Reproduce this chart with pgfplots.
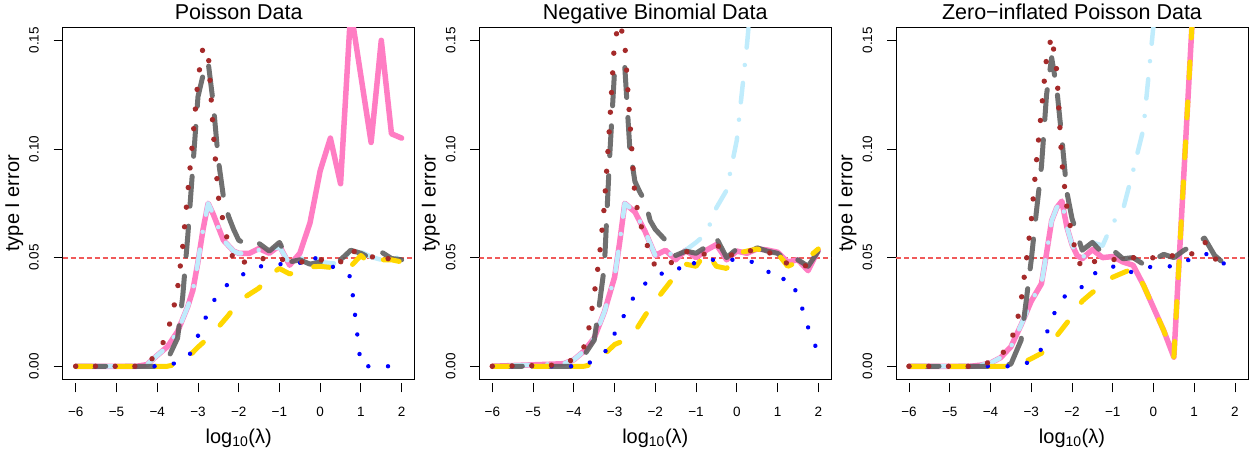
\documentclass[border=0pt]{standalone}
\usepackage{pgfplots}
\pgfplotsset{compat=1.18}
\usepackage{fontspec}
\setmainfont{Liberation Sans}

\definecolor{cpink}{RGB}{255,125,195}
\definecolor{clb}{RGB}{192,236,252}
\definecolor{cgray}{RGB}{92,92,92}
\definecolor{cgold}{RGB}{255,215,0}
\definecolor{cbrown}{RGB}{165,42,42}
\definecolor{cblue}{RGB}{0,0,255}
\definecolor{cref}{RGB}{240,90,90}

\tikzset{
  pinkS/.style={color=cpink, line width=5.5pt, line join=round, line cap=round},
  lbS/.style={color=clb, line width=4.5pt, line join=round, line cap=round, dash pattern=on 0.01pt off 17.5pt on 19.5pt off 18pt},
  grayS/.style={color=cgray, draw opacity=0.88, line width=5pt, line join=round, line cap=round, dash pattern=on 30pt off 20pt},
  goldS/.style={color=cgold, line width=5pt, line join=round, line cap=round, dash pattern=on 16pt off 24pt},
  brownS/.style={color=cbrown, line width=5.4pt, line join=round, line cap=round, dash pattern=on 0.01pt off 19.7pt},
  blueS/.style={color=cblue, line width=4.4pt, line join=round, line cap=round, dash pattern=on 0.01pt off 19.7pt},
  refS/.style={color=cref, line width=1.8pt, line cap=butt, dash pattern=on 5pt off 3pt},
}

\pgfplotsset{
  rpanel/.style={
    scale only axis, width=352pt, height=352pt,
    anchor=south west,
    xmin=-6.32, xmax=2.32, ymin=-0.006, ymax=0.156,
    axis line style={line width=1pt, black},
    xtick={-6,-5,-4,-3,-2,-1,0,1,2},
    xticklabels={−6,−5,−4,−3,−2,−1,0,1,2},
    ytick={0,0.05,0.1,0.15},
    yticklabels={0.00,0.05,0.10,0.15},
    tick align=inside, tick pos=left, major tick length=9pt,
    tick style={black, line width=0.9pt},
    xtick style={yshift=-13pt},
    ytick style={xshift=-9pt},
    tick label style={font=\fontsize{13.5}{15}\selectfont},
    xticklabel style={anchor=base, yshift=-37pt},
    yticklabel style={xshift=-24pt, rotate=90, anchor=base},
    title style={font=\fontsize{21.5}{24}\selectfont, at={(axis description cs:0.5,1.005)}, anchor=base},
    xlabel style={font=\fontsize{20}{22}\selectfont, at={(axis description cs:0.5,-0.181)}, anchor=base},
    ylabel style={font=\fontsize{20}{22}\selectfont, at={(axis description cs:-0.124,0.5)}, anchor=base},
    xlabel={log\textsubscript{10}(λ)},
    ylabel={type I error},
    no markers,
  }
}

\begin{document}
\begin{tikzpicture}
\path[use as bounding box] (0,0) rectangle (1252pt,456pt);

% ---------------- Panel 1: Poisson ----------------
\begin{axis}[rpanel, at={(62.7pt,76.7pt)}, title={Poisson Data}]
\addplot[refS] coordinates {(-6.32,0.05)(2.32,0.05)};
\addplot[pinkS] coordinates {(-6,0)(-4.5,0)(-4.25,0.0008)(-4,0.005)(-3.75,0.009)(-3.5,0.016)(-3.25,0.0275)(-3.125,0.035)(-3,0.048)(-2.875,0.063)(-2.75,0.075)(-2.625,0.070)(-2.5,0.064)(-2.375,0.058)(-2.25,0.0555)(-2.125,0.053)(-2,0.052)(-1.75,0.0519)(-1.5,0.0542)(-1.25,0.052)(-1,0.0555)(-0.75,0.0465)(-0.5,0.052)(-0.25,0.066)(0,0.090)(0.25,0.105)(0.5,0.084)(0.75,0.164)(1.25,0.103)(1.5,0.150)(1.75,0.107)(2,0.105)};
\addplot[lbS] coordinates {(-6,0)(-4.5,0)(-4.25,0.0008)(-4,0.005)(-3.75,0.009)(-3.5,0.016)(-3.25,0.0275)(-3.125,0.035)(-3,0.048)(-2.875,0.063)(-2.75,0.075)(-2.625,0.070)(-2.5,0.064)(-2.375,0.058)(-2.25,0.0555)(-2.125,0.053)(-2,0.052)(-1.75,0.0519)(-1.5,0.0535)(-1.25,0.0534)(-1,0.055)(-0.75,0.047)(-0.5,0.049)(-0.25,0.052)(0,0.048)(0.25,0.0475)(0.5,0.047)(0.75,0.0534)(1,0.0527)(1.25,0.0503)(1.5,0.049)(1.75,0.051)(2,0.049)};
\addplot[grayS] coordinates {(-6,0)(-4,0)(-3.75,0.003)(-3.5,0.013)(-3.375,0.032)(-3.25,0.060)(-3.125,0.092)(-3,0.124)(-2.875,0.134)(-2.75,0.140)(-2.625,0.121)(-2.5,0.095)(-2.375,0.078)(-2.25,0.069)(-2.125,0.063)(-2,0.058)(-1.75,0.0556)(-1.5,0.0565)(-1.25,0.053)(-1,0.057)(-0.75,0.048)(-0.5,0.049)(-0.25,0.047)(0,0.048)(0.25,0.048)(0.5,0.049)(0.75,0.0534)(1,0.052)(1.25,0.0496)(1.5,0.0526)(1.75,0.0496)(2,0.049)};
\addplot[goldS] coordinates {(-6,0)(-3.75,0)(-3.5,0.001)(-3.25,0.004)(-3,0.0088)(-2.75,0.013)(-2.5,0.018)(-2.25,0.0235)(-2,0.030)(-1.75,0.033)(-1.5,0.036)(-1.25,0.042)(-1,0.045)(-0.75,0.0425)(-0.5,0.044)(-0.25,0.0457)(0,0.046)(0.25,0.0455)(0.5,0.045)(0.75,0.046)(1,0.051)(1.25,0.0465)(1.5,0.049)(1.75,0.049)(2,0.048)};
\addplot[blueS] coordinates {(-6,0)(-3.75,0)(-3.5,0.002)(-3.25,0.004)(-3.125,0.008)(-3,0.014)(-2.75,0.025)(-2.5,0.034)(-2.25,0.038)(-2,0.041)(-1.75,0.044)(-1.5,0.046)(-1.25,0.046)(-1,0.047)(-0.75,0.047)(-0.5,0.0475)(-0.25,0.0515)(0,0.048)(0.25,0.046)(0.5,0.045)(0.75,0.041)(1,0)(1.25,0)(1.5,0)(1.75,0)(2,0)};
\addplot[brownS] coordinates {(-6,0)(-4.5,0)(-4.25,0.001)(-4,0.006)(-3.875,0.010)(-3.75,0.016)(-3.625,0.024)(-3.5,0.036)(-3.375,0.055)(-3.25,0.080)(-3.125,0.105)(-3,0.132)(-2.875,0.147)(-2.75,0.145)(-2.625,0.108)(-2.5,0.078)(-2.375,0.066)(-2.25,0.056)(-2.125,0.049)(-2,0.046)(-1.75,0.0495)(-1.5,0.0495)(-1.25,0.0496)(-1,0.0496)(-0.75,0.048)(-0.5,0.048)(-0.25,0.048)(0,0.049)(0.25,0.049)(0.5,0.048)(0.75,0.0537)(1,0.051)(1.25,0.050)(1.5,0.0526)(1.75,0.048)(2,0.049)};
\end{axis}

% ---------------- Panel 2: Negative Binomial ----------------
\begin{axis}[rpanel, at={(479.3pt,76.7pt)}, title={Negative Binomial Data}]
\addplot[refS] coordinates {(-6.32,0.05)(2.32,0.05)};
\addplot[pinkS] coordinates {(-6,0)(-4.5,0.001)(-4.25,0.0012)(-4,0.003)(-3.75,0.007)(-3.5,0.013)(-3.25,0.025)(-3.125,0.033)(-3,0.041)(-2.875,0.057)(-2.75,0.075)(-2.5,0.071)(-2.25,0.062)(-2,0.051)(-1.75,0.0534)(-1.5,0.049)(-1.25,0.0534)(-1,0.050)(-0.75,0.0534)(-0.5,0.056)(-0.25,0.049)(0,0.053)(0.25,0.052)(0.5,0.054)(0.75,0.0535)(1,0.0525)(1.25,0.048)(1.5,0.049)(1.75,0.044)(2,0.0534)};
\addplot[lbS] coordinates {(-6,0)(-4.5,0.001)(-4.25,0.0012)(-4,0.003)(-3.75,0.007)(-3.5,0.013)(-3.25,0.025)(-3.125,0.033)(-3,0.041)(-2.875,0.057)(-2.75,0.075)(-2.5,0.071)(-2.25,0.062)(-2,0.051)(-1.75,0.0534)(-1.5,0.050)(-1.25,0.0535)(-1,0.057)(-0.75,0.061)(-0.5,0.073)(-0.25,0.081)(0,0.104)(0.25,0.148)(0.5,0.20)};
\addplot[grayS] coordinates {(-6,0)(-4,0)(-3.75,0.005)(-3.5,0.012)(-3.375,0.028)(-3.25,0.046)(-3.125,0.095)(-3,0.136)(-2.875,0.139)(-2.75,0.138)(-2.625,0.100)(-2.5,0.085)(-2.375,0.080)(-2.25,0.076)(-2.125,0.067)(-2,0.063)(-1.75,0.058)(-1.5,0.051)(-1.25,0.053)(-1,0.052)(-0.75,0.055)(-0.5,0.059)(-0.25,0.050)(0,0.054)(0.25,0.052)(0.5,0.0545)(0.75,0.053)(1,0.052)(1.25,0.048)(1.5,0.049)(1.75,0.046)(2,0.053)};
\addplot[goldS] coordinates {(-6,0)(-3.75,0)(-3.5,0.001)(-3.25,0.0055)(-3,0.010)(-2.75,0.012)(-2.5,0.016)(-2.25,0.0234)(-2,0.030)(-1.75,0.036)(-1.5,0.042)(-1.25,0.047)(-1,0.046)(-0.75,0.0525)(-0.5,0.046)(-0.25,0.045)(0,0.052)(0.25,0.053)(0.5,0.054)(0.75,0.0525)(1,0.052)(1.25,0.046)(1.5,0.048)(1.75,0.050)(2,0.054)};
\addplot[blueS] coordinates {(-6,0)(-3.75,0)(-3.5,0.003)(-3.25,0.006)(-3,0.015)(-2.75,0.024)(-2.5,0.033)(-2.25,0.038)(-2,0.042)(-1.75,0.043)(-1.5,0.043)(-1.25,0.049)(-1,0.047)(-0.75,0.048)(-0.5,0.0495)(-0.25,0.049)(0,0.049)(0.25,0.049)(0.5,0.047)(0.75,0.044)(1,0.039)(1.25,0.041)(1.5,0.033)(1.75,0.018)(2,0.006)};
\addplot[brownS] coordinates {(-6,0)(-4.5,0.0005)(-4,0.003)(-3.75,0.009)(-3.625,0.018)(-3.5,0.033)(-3.375,0.050)(-3.25,0.074)(-3.125,0.110)(-3,0.150)(-2.875,0.158)(-2.75,0.149)(-2.625,0.113)(-2.5,0.078)(-2.375,0.066)(-2.25,0.059)(-2.125,0.051)(-2,0.046)(-1.75,0.046)(-1.5,0.049)(-1.25,0.053)(-1,0.050)(-0.75,0.052)(-0.5,0.0565)(-0.25,0.050)(0,0.0525)(0.25,0.053)(0.5,0.0535)(0.75,0.0525)(1,0.051)(1.25,0.047)(1.5,0.047)(1.75,0.046)(2,0.052)};
\end{axis}

% ---------------- Panel 3: Zero-inflated Poisson ----------------
\begin{axis}[rpanel, at={(896pt,76.7pt)}, title={Zero−inflated Poisson Data}]
\addplot[refS] coordinates {(-6.32,0.05)(2.32,0.05)};
\addplot[pinkS] coordinates {(-6,0)(-4.5,0)(-4.25,0.0005)(-4,0.0015)(-3.75,0.004)(-3.5,0.009)(-3.25,0.019)(-3,0.030)(-2.75,0.038)(-2.625,0.052)(-2.5,0.067)(-2.375,0.073)(-2.25,0.076)(-2.125,0.064)(-2,0.056)(-1.875,0.051)(-1.75,0.0495)(-1.5,0.0537)(-1.25,0.050)(-1,0.0505)(-0.75,0.048)(-0.5,0.0465)(-0.25,0.0375)(0,0.027)(0.25,0.0165)(0.5,0.0042)(1,0.176)(1.25,0.25)};
\addplot[lbS] coordinates {(-6,0)(-4.5,0)(-4.25,0.0005)(-4,0.0015)(-3.75,0.004)(-3.5,0.009)(-3.25,0.019)(-3,0.030)(-2.75,0.038)(-2.625,0.052)(-2.5,0.067)(-2.375,0.073)(-2.25,0.076)(-2.125,0.064)(-2,0.056)(-1.875,0.051)(-1.75,0.0495)(-1.5,0.057)(-1.25,0.0555)(-1,0.066)(-0.75,0.072)(-0.5,0.090)(-0.25,0.109)(0,0.157)(0.25,0.25)};
\addplot[grayS] coordinates {(-6,0)(-3.75,0)(-3.5,0.001)(-3.25,0.012)(-3.125,0.030)(-3,0.049)(-2.875,0.071)(-2.75,0.092)(-2.625,0.125)(-2.5,0.142)(-2.375,0.128)(-2.25,0.105)(-2.125,0.080)(-2,0.068)(-1.75,0.0534)(-1.5,0.057)(-1.25,0.052)(-1,0.0535)(-0.75,0.0495)(-0.5,0.050)(-0.25,0.047)(0,0.049)(0.25,0.0515)(0.5,0.050)(0.75,0.0534)(1,0.056)(1.25,0.059)(1.5,0.051)(1.75,0.047)(1.85,0.046)};
\addplot[goldS] coordinates {(-6,0)(-3.5,0)(-3.25,0.0012)(-3,0.0035)(-2.75,0.006)(-2.5,0.011)(-2.25,0.017)(-2,0.023)(-1.75,0.030)(-1.5,0.034)(-1.25,0.037)(-1,0.041)(-0.75,0.043)(-0.5,0.045)(-0.25,0.0375)(0,0.027)(0.25,0.0165)(0.5,0.0042)(1,0.176)(1.25,0.25)};
\addplot[blueS] coordinates {(-6,0)(-3.5,0)(-3.25,0.001)(-3,0.002)(-2.75,0.008)(-2.5,0.022)(-2.25,0.031)(-2,0.035)(-1.75,0.0365)(-1.5,0.042)(-1.25,0.045)(-1,0.046)(-0.75,0.043)(-0.5,0.0435)(-0.25,0.045)(0,0.046)(0.25,0.046)(0.5,0.046)(0.75,0.048)(1,0.050)(1.25,0.052)(1.5,0.050)(1.75,0.047)(1.85,0.046)};
\addplot[brownS] coordinates {(-6,0)(-4.5,0)(-4.25,0.0005)(-4,0.002)(-3.75,0.0045)(-3.5,0.012)(-3.375,0.018)(-3.25,0.030)(-3.125,0.048)(-3,0.067)(-2.875,0.094)(-2.75,0.118)(-2.625,0.142)(-2.5,0.152)(-2.375,0.136)(-2.25,0.094)(-2.125,0.073)(-2,0.060)(-1.875,0.050)(-1.75,0.045)(-1.5,0.048)(-1.25,0.049)(-1,0.049)(-0.75,0.050)(-0.5,0.050)(-0.25,0.049)(0,0.050)(0.25,0.050)(0.5,0.051)(0.75,0.051)(1,0.052)(1.25,0.0575)(1.5,0.0495)(1.75,0.048)(1.9,0.049)};
\end{axis}
\end{tikzpicture}
\end{document}
